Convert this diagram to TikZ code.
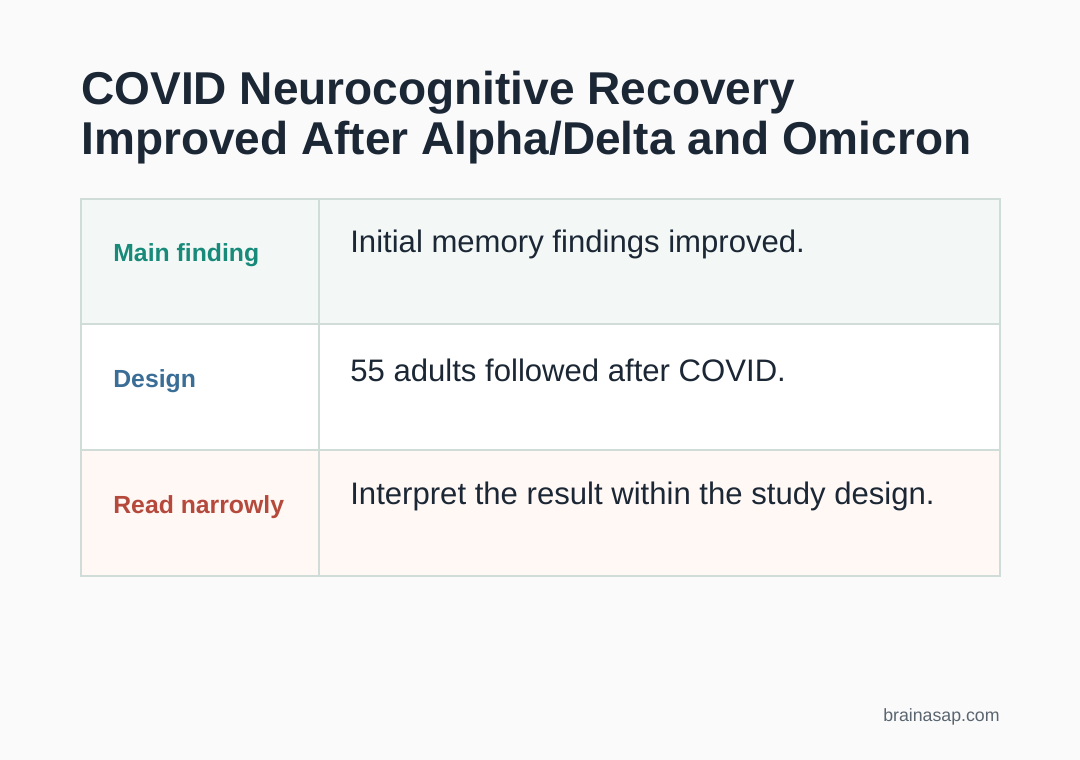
\documentclass[tikz,border=0pt]{standalone}
\usepackage{fontspec}
\setmainfont{Liberation Sans}
\usetikzlibrary{positioning}
\definecolor{pagebg}{HTML}{FAFAFA}
\definecolor{ink}{HTML}{1C2735}
\definecolor{rule}{HTML}{CFDCD8}
\definecolor{rowa}{HTML}{F3F8F6}
\definecolor{rowc}{HTML}{FFF8F5}
\definecolor{teal}{HTML}{178A7A}
\definecolor{steel}{HTML}{3A6E96}
\definecolor{brick}{HTML}{B54A3C}
\definecolor{footgray}{HTML}{5A6570}
\tikzset{
	cell/.style={draw=rule,line width=1.5pt},
	tag/.style={anchor=west,inner sep=0pt,font=\fontsize{14.1}{17}\selectfont\bfseries},
	body/.style={anchor=west,inner sep=0pt,text=ink,font=\fontsize{17.7}{21}\selectfont}
}
\begin{document}
\begin{tikzpicture}[x=0.02cm,y=-0.02cm]
	\fill[pagebg] (0,0) rectangle (1080,760);
	\useasboundingbox (0,0) rectangle (1080,760);

	\node[anchor=north west,inner sep=0pt,text=ink,align=left,
		font=\fontsize{26.2}{28.5}\selectfont\bfseries]	(title)	at	(81,71)
		{COVID Neurocognitive Recovery\\Improved After Alpha/Delta and Omicron};

	% rows
	\draw[cell,fill=rowa]	(81,199)	rectangle	(1000,324);
	\draw[cell,fill=white]	(81,324)	rectangle	(1000,450);
	\draw[cell,fill=rowc]	(81,450)	rectangle	(1000,576);
	\draw[cell]	(319,199)	--	(319,576);

	\node[tag,text=teal]	(main)	at	(113,255)	{Main finding};
	\node[tag,text=steel]	(design)	at	(113,381)	{Design};
	\node[tag,text=brick]	(narrow)	at	(113,507)	{Read narrowly};

	\node[body]	(mainTxt)	at	(350,244)	{Initial memory findings improved.};
	\node[body]	(designTxt)	at	(350,370)	{55 adults followed after COVID.};
	\node[body]	(narrowTxt)	at	(350,496)	{Interpret the result within the study design.};

	\node[anchor=east,inner sep=0pt,text=footgray,font=\fontsize{10.1}{12}\selectfont]	(site)	at	(1000,717)	{brainasap.com};
\end{tikzpicture}
\end{document}
